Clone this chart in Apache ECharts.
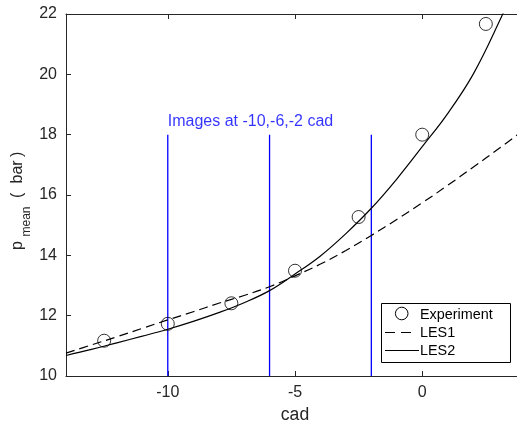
<!DOCTYPE html>
<html>
<head>
<meta charset="utf-8">
<script src="https://cdn.jsdelivr.net/npm/echarts@6/dist/echarts.min.js"></script>
<style>
  html, body { margin: 0; padding: 0; background: #fff; }
  #chart { width: 517px; height: 430px; }
</style>
</head>
<body>
<div id="chart"></div>
<script>
// Crank angle grid for the two LES curves (cad)
const cadGrid = [-14, -13, -12, -11, -10, -9, -8, -7, -6, -5, -4, -3, -2, -1, 0, 1, 2, 3, 4];
// Mean pressure predicted by LES1 (bar)
const les1 = [10.76, 11.03, 11.30, 11.58, 11.86, 12.13, 12.41, 12.67, 12.96, 13.32, 13.71, 14.16, 14.66, 15.19, 15.74, 16.32, 16.92, 17.53, 18.16];
// Mean pressure predicted by LES2 (bar)
const les2 = [10.68, 10.88, 11.10, 11.32, 11.55, 11.81, 12.10, 12.43, 12.83, 13.38, 13.98, 14.72, 15.56, 16.53, 17.60, 18.70, 20.00, 21.70, 23.60];
// Measured mean pressure
const expCad = [-12.5, -10, -7.5, -5, -2.5, 0, 2.5];
const expP = [11.17, 11.73, 12.41, 13.49, 15.27, 18.00, 21.67];
// Crank angles where images were taken, marked by vertical lines
const imageCad = [-10, -6, -2];
const imageTop = 18;
// Axis ranges and ticks
const xMin = -14, xMax = 4;
const yMin = 10, yMax = 22, yStep = 2;
const xTicks = [-10, -5, 0];
// Legend entries
const legendNames = ['Experiment', 'LES1', 'LES2'];

const FONT = 'Liberation Sans, Arial, Helvetica, sans-serif';
const AX = '#262626';

const chart = echarts.init(document.getElementById('chart'), null, { renderer: 'canvas' });

const pairs = (xs, ys) => xs.map((x, i) => [x, ys[i]]);

const imageSeries = imageCad.map((c) => ({
  type: 'line',
  name: 'image' + c,
  data: [[c, yMin], [c, imageTop]],
  symbol: 'none',
  silent: true,
  lineStyle: { color: '#0000ff', width: 1.3 },
  z: 2
}));

// Boxed legend in the lower right corner of the axes
const LG = { x: 381.5, y: 303.5, w: 129, h: 59, rowY: [315, 333, 351], textX: 420 };
const legendGraphic = [
  {
    type: 'rect', shape: { x: LG.x, y: LG.y, width: LG.w, height: LG.h },
    style: { fill: '#ffffff', stroke: '#000000', lineWidth: 1 }, z: 100, silent: true
  },
  {
    type: 'circle', shape: { cx: 401.7, cy: LG.rowY[0] - 1.5, r: 6.3 },
    style: { fill: 'none', stroke: '#000000', lineWidth: 1 }, z: 101, silent: true
  },
  {
    type: 'line', shape: { x1: 385, y1: LG.rowY[1] - 0.5, x2: 414, y2: LG.rowY[1] - 0.5 },
    style: { stroke: '#000000', lineWidth: 1.2, lineDash: [10, 6] }, z: 101, silent: true
  },
  {
    type: 'line', shape: { x1: 385, y1: LG.rowY[2] - 0.5, x2: 419, y2: LG.rowY[2] - 0.5 },
    style: { stroke: '#000000', lineWidth: 1.2 }, z: 101, silent: true
  },
  ...legendNames.map((n, i) => ({
    type: 'text', x: LG.textX, y: LG.rowY[i],
    style: { text: n, fontFamily: FONT, fontSize: 14.4, fill: '#000000', verticalAlign: 'middle', align: 'left' },
    z: 101, silent: true
  }))
];

// Y axis title p_mean ( bar ), written bottom to top with a subscript
const yTitle = {
  type: 'group', x: 22, y: 250, rotation: Math.PI / 2, silent: true,
  children: [
    { type: 'text', x: 0, y: -4.8, style: { text: 'p', fontFamily: FONT, fontSize: 16, fill: AX, verticalAlign: 'middle' } },
    { type: 'text', x: 13.5, y: 4.5, style: { text: 'mean', fontFamily: FONT, fontSize: 12, fill: AX, verticalAlign: 'middle' } },
    { type: 'text', x: 52, y: -4.8, style: { text: '(', fontFamily: FONT, fontSize: 16, fill: AX, verticalAlign: 'middle' } },
    { type: 'text', x: 66.5, y: -4.8, style: { text: 'bar', fontFamily: FONT, fontSize: 16, fill: AX, verticalAlign: 'middle' } },
    { type: 'text', x: 93, y: -4.8, style: { text: ')', fontFamily: FONT, fontSize: 16, fill: AX, verticalAlign: 'middle' } }
  ]
};

const option = {
  animation: false,
  backgroundColor: '#ffffff',
  grid: { left: 66, top: 14, width: 458, height: 362, containLabel: false, outerBoundsMode: 'none' },
  xAxis: [
    {
      type: 'value', min: xMin, max: xMax,
      name: 'cad', nameLocation: 'middle', nameGap: 25,
      nameTextStyle: { fontFamily: FONT, fontSize: 17.6, color: AX },
      axisLine: { show: true, onZero: false, lineStyle: { color: AX, width: 1 } },
      axisTick: { show: true, inside: true, length: 5, customValues: xTicks, lineStyle: { color: AX } },
      axisLabel: { customValues: xTicks, fontFamily: FONT, fontSize: 16, color: AX, margin: 9 },
      splitLine: { show: false }
    },
    {
      type: 'value', min: xMin, max: xMax, position: 'top',
      axisLine: { show: true, onZero: false, lineStyle: { color: AX, width: 1 } },
      axisTick: { show: true, inside: true, length: 5, customValues: xTicks, lineStyle: { color: AX } },
      axisLabel: { show: false },
      splitLine: { show: false }
    }
  ],
  yAxis: {
    type: 'value', min: yMin, max: yMax, interval: yStep,
    axisLine: { show: true, onZero: false, lineStyle: { color: AX, width: 1 } },
    axisTick: { show: true, inside: true, length: 5, lineStyle: { color: AX } },
    axisLabel: { fontFamily: FONT, fontSize: 16, color: AX, margin: 9 },
    splitLine: { show: false }
  },
  graphic: [...legendGraphic, yTitle],
  series: [
    ...imageSeries,
    {
      type: 'scatter', name: 'imagesLabel',
      data: [[imageCad[0], imageTop]],
      symbolSize: 0, silent: true,
      label: {
        show: true, formatter: 'Images at -10,-6,-2 cad',
        position: [0, -5], align: 'left', verticalAlign: 'bottom',
        fontFamily: FONT, fontSize: 16, color: '#0000ff'
      },
      z: 3
    },
    {
      type: 'line', name: 'LES1', data: pairs(cadGrid, les1),
      smooth: 0.4, symbol: 'none',
      lineStyle: { color: '#000', width: 1.2, type: [9, 5] },
      itemStyle: { color: '#000' }, z: 4
    },
    {
      type: 'line', name: 'LES2', data: pairs(cadGrid, les2),
      smooth: 0.4, symbol: 'none',
      lineStyle: { color: '#000', width: 1.2 },
      itemStyle: { color: '#000' }, z: 4
    },
    {
      type: 'scatter', name: 'Experiment', data: pairs(expCad, expP),
      symbol: 'circle', symbolSize: 13,
      itemStyle: { color: 'rgba(0,0,0,0)', borderColor: '#000', borderWidth: 1 },
      z: 5
    }
  ]
};

chart.setOption(option);
</script>
</body>
</html>
